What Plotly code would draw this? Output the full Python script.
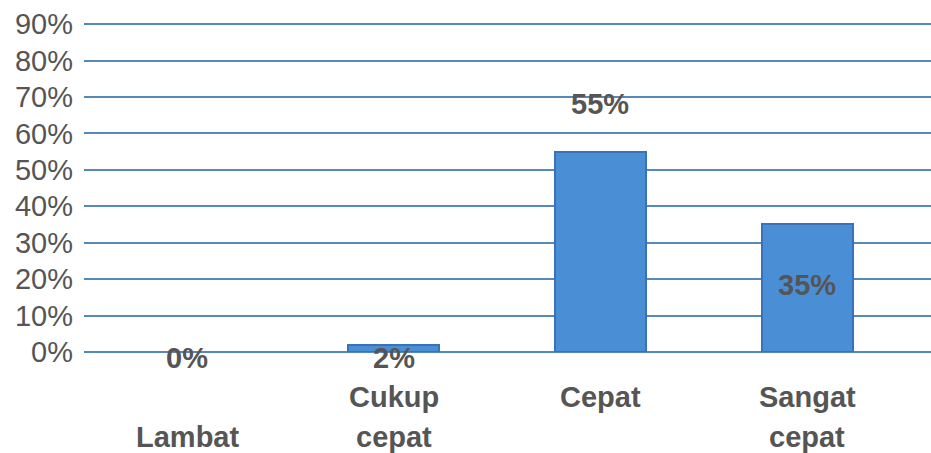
import plotly.graph_objects as go

# Response distribution per speed category
categories = ["Lambat", "Cukup cepat", "Cepat", "Sangat cepat"]
values = [0, 2, 55, 35]
value_labels = ["0%", "2%", "55%", "35%"]
tick_values = [0, 10, 20, 30, 40, 50, 60, 70, 80, 90]
tick_labels = ["0%", "10%", "20%", "30%", "40%", "50%", "60%", "70%", "80%", "90%"]

# Category label lines: (row, text) where row 0 is the upper line
category_lines = [
    [(1, "Lambat")],
    [(0, "Cukup"), (1, "cepat")],
    [(0, "Cepat")],
    [(0, "Sangat"), (1, "cepat")],
]
# Vertical placement of each value label (data units); shown relative to the baseline
value_label_y = [-1.6, -1.6, 68, 18.5]

GRID = "#5588bb"
TEXT = "#555555"
FONT = "Liberation Sans, Arial, sans-serif"
Y_TOP = 90.3
PLOT_H = 453 - 23 - 101
PX_PER_UNIT = PLOT_H / Y_TOP

fig = go.Figure(
    go.Bar(
        x=list(range(len(categories))),
        y=values,
        width=0.44,
        marker=dict(
            color="#4a8fd6",
            line=dict(color="#3a72b8", width=[0 if v == 0 else 2 for v in values]),
        ),
        hoverinfo="skip",
    )
)

annotations = []
for i, (lab, ly) in enumerate(zip(value_labels, value_label_y)):
    annotations.append(dict(
        x=i, y=0, xref="x", yref="y", text=f"<b>{lab}</b>", showarrow=False,
        font=dict(size=29, color=TEXT, family=FONT), yanchor="middle",
        yshift=ly * PX_PER_UNIT,
    ))

row_offsets = [-45, -85]  # pixel offsets below the axis baseline
for i, lines in enumerate(category_lines):
    for row, txt in lines:
        annotations.append(dict(
            x=i, y=0, xref="x", yref="paper", text=f"<b>{txt}</b>", showarrow=False,
            font=dict(size=29, color=TEXT, family=FONT), yanchor="middle",
            yshift=row_offsets[row],
        ))

fig.update_layout(
    width=931, height=453,
    margin=dict(l=84, r=0, t=23, b=101),
    paper_bgcolor="white", plot_bgcolor="white",
    showlegend=False,
    bargap=0,
    annotations=annotations,
    xaxis=dict(
        range=[-0.5, 3.6], showticklabels=False, showgrid=False,
        zeroline=False, showline=False, ticks="",
    ),
    yaxis=dict(
        range=[0, Y_TOP], tickvals=tick_values, ticktext=tick_labels,
        showgrid=True, gridcolor=GRID, gridwidth=2,
        zeroline=True, zerolinecolor=GRID, zerolinewidth=2,
        showline=False, ticks="", ticklabelstandoff=10,
        tickfont=dict(size=29, color=TEXT, family=FONT),
    ),
)

fig.write_html("out.html")
